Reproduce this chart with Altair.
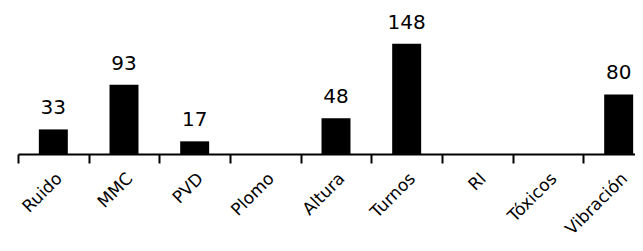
import altair as alt
import pandas as pd

categories = ["Ruido", "MMC", "PVD", "Plomo", "Altura", "Turnos", "RI", "Tóxicos", "Vibración"]
values = [33, 93, 17, 0, 48, 148, 0, 0, 80]
labels = ["33", "93", "17", "", "48", "148", "", "", "80"]

df = pd.DataFrame({"cat": categories, "val": values, "lab": labels})

x = alt.X(
    "cat:N",
    sort=categories,
    title=None,
    scale=alt.Scale(range=[0, 636], paddingInner=0, paddingOuter=0),
    axis=alt.Axis(
        labelAngle=-45,
        labelFont="DejaVu Sans",
        labelFontSize=17,
        labelColor="black",
        domainColor="black",
        domainWidth=2,
        tickColor="black",
        tickWidth=2,
        tickSize=9,
        tickBand="extent",
        labelPadding=7,
    ),
)
y = alt.Y("val:Q", scale=alt.Scale(domain=[0, 196]), axis=None)

bars = alt.Chart(df).mark_bar(color="black", width=alt.RelativeBandSize(0.41)).encode(x=x, y=y)
text = alt.Chart(df).mark_text(
    font="DejaVu Sans", fontSize=20, color="black", baseline="alphabetic", dy=-15
).encode(x=x, y=y, text="lab:N")

chart = (
    alt.layer(bars, text)
    .properties(
        width=617,
        height=146,
        autosize=alt.AutoSizeParams(type="none"),
        padding={"left": 10, "top": 0, "right": 0, "bottom": 89},
    )
    .configure_view(stroke=None)
)

chart.save("out.html", embed_options={"renderer": "svg", "actions": False})
